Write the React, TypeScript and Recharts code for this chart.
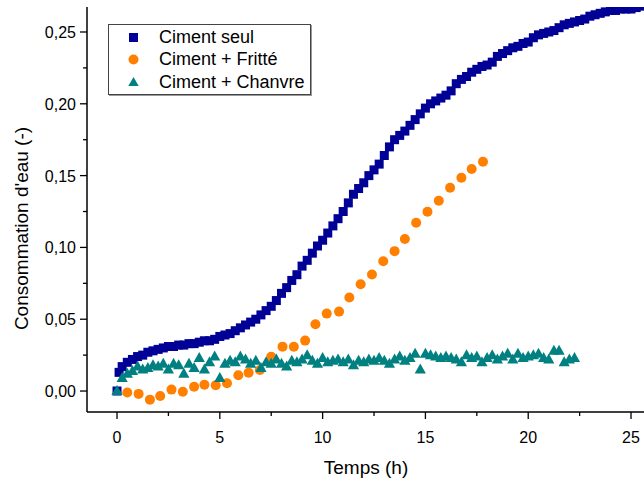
import { ScatterChart, Scatter, XAxis, YAxis, Legend } from "recharts";

// Ciment seul
const seulTime = [
  0, 0.1, 0.25, 0.5, 0.75, 1, 1.25, 1.5, 1.75, 2, 2.25, 2.5, 2.75, 3, 3.25, 3.5, 3.75, 4, 4.25, 4.5, 4.75,
  5, 5.25, 5.5, 5.75, 6, 6.25, 6.5, 6.75, 7, 7.25, 7.5, 7.75, 8, 8.25, 8.5, 8.75, 9, 9.25, 9.5, 9.75,
  10, 10.25, 10.5, 10.75, 11, 11.25, 11.5, 11.75, 12, 12.25, 12.5, 12.75, 13, 13.25, 13.5, 13.75,
  14, 14.25, 14.5, 14.75, 15, 15.25, 15.5, 15.75, 16, 16.25, 16.5, 16.75, 17, 17.25, 17.5, 17.75,
  18, 18.25, 18.5, 18.75, 19, 19.25, 19.5, 19.75, 20, 20.25, 20.5, 20.75, 21, 21.25, 21.5, 21.75,
  22, 22.25, 22.5, 22.75, 23, 23.25, 23.5, 23.75, 24, 24.25, 24.5, 24.75, 25, 25.25, 25.5,
];
const seulValue = [
  0, 0.013, 0.017, 0.02, 0.022, 0.024, 0.025, 0.027, 0.028, 0.029, 0.03, 0.031, 0.031, 0.032, 0.032,
  0.033, 0.033, 0.034, 0.035, 0.035, 0.036, 0.038, 0.039, 0.04, 0.042, 0.044, 0.046, 0.048, 0.05,
  0.053, 0.056, 0.059, 0.063, 0.068, 0.072, 0.077, 0.081, 0.087, 0.091, 0.096, 0.101, 0.105, 0.11,
  0.115, 0.12, 0.125, 0.131, 0.137, 0.141, 0.145, 0.15, 0.154, 0.158, 0.164, 0.17, 0.175, 0.178,
  0.181, 0.185, 0.189, 0.193, 0.197, 0.2, 0.202, 0.204, 0.206, 0.209, 0.214, 0.217, 0.219, 0.222,
  0.224, 0.226, 0.227, 0.229, 0.233, 0.235, 0.237, 0.239, 0.24, 0.242, 0.243, 0.246, 0.248, 0.249,
  0.25, 0.251, 0.253, 0.255, 0.256, 0.257, 0.258, 0.259, 0.261, 0.262, 0.263, 0.264, 0.265, 0.265,
  0.266, 0.266, 0.266, 0.267, 0.268,
];

// Ciment + Fritté
const fritteTime = [
  0.5, 1.05, 1.6, 2.1, 2.65, 3.2, 3.75, 4.25, 4.8, 5.35, 5.9, 6.4, 6.95, 7.5, 8.05, 8.6, 9.15, 9.65,
  10.2, 10.8, 11.3, 11.85, 12.4, 12.95, 13.5, 14, 14.55, 15.1, 15.65, 16.2, 16.75, 17.25, 17.8,
];
const fritteValue = [
  -0.001, -0.002, -0.006, -0.0035, 0.001, -0.0005, 0.003, 0.0044, 0.004, 0.0054, 0.011, 0.0128,
  0.0146, 0.0239, 0.0309, 0.0308, 0.0351, 0.0465, 0.0539, 0.0553, 0.0651, 0.0744, 0.0811, 0.0904,
  0.0974, 0.1058, 0.1172, 0.1248, 0.1325, 0.1416, 0.1485, 0.1546, 0.1597,
];

// Ciment + Chanvre
const chanvreTime = [
  0, 0.25, 0.5, 0.75, 1, 1.25, 1.5, 1.75, 2, 2.25, 2.5, 2.75, 3, 3.25, 3.5, 3.75, 4, 4.25, 4.5, 4.75,
  5, 5.25, 5.5, 5.75, 6, 6.25, 6.5, 6.75, 7, 7.25, 7.5, 7.75, 8, 8.25, 8.5, 8.75, 9, 9.25, 9.5, 9.75,
  10, 10.25, 10.5, 10.75, 11, 11.25, 11.5, 11.75, 12, 12.25, 12.5, 12.75, 13, 13.25, 13.5, 13.75,
  14, 14.25, 14.5, 14.75, 15, 15.25, 15.5, 15.75, 16, 16.25, 16.5, 16.75, 17, 17.25, 17.5, 17.75,
  18, 18.25, 18.5, 18.75, 19, 19.25, 19.5, 19.75, 20, 20.25, 20.5, 20.75, 21, 21.25, 21.5, 21.75,
  22, 22.25,
];
const chanvreValue = [
  0, 0.009, 0.012, 0.014, 0.017, 0.015, 0.016, 0.018, 0.017, 0.019, 0.015, 0.019, 0.018, 0.012,
  0.019, 0.016, 0.023, 0.015, 0.02, 0.024, 0.009, 0.019, 0.021, 0.02, 0.024, 0.022, 0.019, 0.021,
  0.016, 0.02, 0.019, 0.022, 0.019, 0.017, 0.021, 0.02, 0.022, 0.025, 0.021, 0.019, 0.023, 0.02,
  0.021, 0.022, 0.02, 0.022, 0.018, 0.021, 0.02, 0.022, 0.021, 0.023, 0.021, 0.019, 0.022, 0.024,
  0.021, 0.023, 0.026, 0.015, 0.026, 0.025, 0.024, 0.023, 0.024, 0.023, 0.022, 0.02, 0.025, 0.023,
  0.024, 0.02, 0.023, 0.025, 0.022, 0.024, 0.026, 0.022, 0.026, 0.023, 0.024, 0.025, 0.026, 0.023,
  0.022, 0.028, 0.028, 0.02, 0.022, 0.023,
];

const seriesNames = ["Ciment seul", "Ciment + Fritté", "Ciment + Chanvre"];
const xTicks = [0, 2.5, 5, 7.5, 10, 12.5, 15, 17.5, 20, 22.5, 25];
const yTicks = [0, 0.025, 0.05, 0.075, 0.1, 0.125, 0.15, 0.175, 0.2, 0.225, 0.25];

const BLUE = "#000096";
const ORANGE = "#ff8000";
const TEAL = "#008080";
const FONT = "'Liberation Sans', Arial, sans-serif";

const toPoints = (t: number[], v: number[]) => t.map((x, i) => ({ x, y: v[i] }));

const Square = (p: any) => (
  <rect x={p.cx - 4.5} y={p.cy - 4.5} width={9} height={9} fill={BLUE} />
);
const Dot = (p: any) => <circle cx={p.cx} cy={p.cy} r={5} fill={ORANGE} />;
const Tri = (p: any) => (
  <path
    d={`M${p.cx},${p.cy - 6}L${p.cx + 5.6},${p.cy + 4}L${p.cx - 5.6},${p.cy + 4}Z`}
    fill={TEAL}
  />
);

const XTick = ({ x, y, payload }: any) => {
  const major = payload.value % 5 === 0;
  return (
    <g>
      <line x1={x} x2={x} y1={y} y2={y + (major ? 7 : 4)} stroke="#000" strokeWidth={1.3} />
      {major && (
        <text x={x} y={y + 31} textAnchor="middle" fontSize={16} fontFamily={FONT} fill="#000">
          {payload.value}
        </text>
      )}
    </g>
  );
};

const YTick = ({ x, y, payload, index }: any) => {
  const major = index % 2 === 0;
  return (
    <g>
      <line x1={x - (major ? 7 : 4)} x2={x} y1={y} y2={y} stroke="#000" strokeWidth={1.3} />
      {major && (
        <text x={x - 11} y={y + 6} textAnchor="end" fontSize={16} fontFamily={FONT} fill="#000">
          {payload.value.toFixed(2).replace(".", ",")}
        </text>
      )}
    </g>
  );
};

const legendShapes = [
  <rect x={2} y={2} width={9} height={9} fill={BLUE} />,
  <circle cx={6.5} cy={6.5} r={5} fill={ORANGE} />,
  <path d="M6.5,1L11.7,10L1.3,10Z" fill={TEAL} />,
];

const LegendBox = () => (
  <div
    style={{
      border: "1px solid #444",
      boxShadow: "1px 1px 0 #999",
      background: "#fff",
      padding: "1px 5px 0 18px",
      fontFamily: FONT,
      fontSize: 18,
      color: "#000",
    }}
  >
    {seriesNames.map((name, i) => (
      <div key={name} style={{ display: "flex", alignItems: "center", height: 22.5 }}>
        <svg width={13} height={13} style={{ marginRight: 19 }}>
          {legendShapes[i]}
        </svg>
        <span>{name}</span>
      </div>
    ))}
  </div>
);

export default function App() {
  return (
    <div
      style={{
        position: "absolute",
        left: 0,
        top: 0,
        width: 644,
        height: 484,
        overflow: "hidden",
        background: "#fff",
      }}
    >
      <ScatterChart width={650} height={484} margin={{ top: 7, right: 5, bottom: 0, left: 0 }}>
        <XAxis
          type="number"
          dataKey="x"
          domain={[-1.46, 25.68]}
          allowDataOverflow
          ticks={xTicks}
          interval={0}
          tickSize={0}
          tickMargin={0}
          tickLine={false}
          tick={<XTick />}
          height={72}
          axisLine={{ stroke: "#000", strokeWidth: 1.5 }}
          label={{
            content: (props: any) => {
              const vb = props.viewBox;
              return (
                <text
                  x={vb.x + vb.width / 2}
                  y={vb.y + 62}
                  textAnchor="middle"
                  fontSize={19}
                  fontFamily={FONT}
                  fill="#000"
                >
                  Temps (h)
                </text>
              );
            },
          }}
        />
        <YAxis
          type="number"
          dataKey="y"
          domain={[-0.0146, 0.2674]}
          allowDataOverflow
          ticks={yTicks}
          interval={0}
          tickSize={0}
          tickMargin={0}
          tickLine={false}
          tick={<YTick />}
          width={87}
          axisLine={{ stroke: "#000", strokeWidth: 1.5 }}
          label={{
            content: (props: any) => {
              const vb = props.viewBox;
              const cx = vb.x + 21;
              const cy = vb.y + vb.height / 2 + 19;
              return (
                <text
                  x={cx}
                  y={cy}
                  transform={`rotate(-90 ${cx} ${cy})`}
                  textAnchor="middle"
                  dominantBaseline="central"
                  fontSize={19}
                  fontFamily={FONT}
                  fill="#000"
                >
                  Consommation d'eau (-)
                </text>
              );
            },
          }}
        />
        <XAxis
          xAxisId="top"
          orientation="top"
          type="number"
          domain={[0, 1]}
          height={0}
          tick={false}
          tickLine={false}
          axisLine={{ stroke: "#000", strokeWidth: 1.5 }}
        />
        <Legend
          verticalAlign="middle"
          layout="horizontal"
          align="center"
          content={<LegendBox />}
          wrapperStyle={{ left: 108, top: 24, width: 203, height: "auto" }}
        />
        <Scatter
          name={seriesNames[0]}
          data={toPoints(seulTime, seulValue)}
          fill={BLUE}
          shape={<Square />}
          isAnimationActive={false}
        />
        <Scatter
          name={seriesNames[1]}
          data={toPoints(fritteTime, fritteValue)}
          fill={ORANGE}
          shape={<Dot />}
          isAnimationActive={false}
        />
        <Scatter
          name={seriesNames[2]}
          data={toPoints(chanvreTime, chanvreValue)}
          fill={TEAL}
          shape={<Tri />}
          isAnimationActive={false}
        />
      </ScatterChart>
    </div>
  );
}
